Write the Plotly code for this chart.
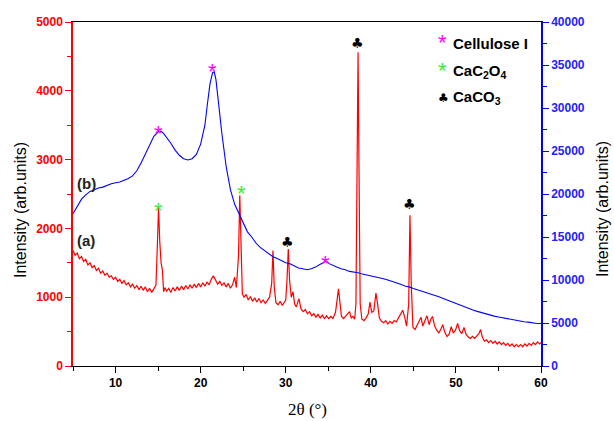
import plotly.graph_objects as go

# ---- data: curve (a), left axis ----
two_theta_a = [5.0,5.25,5.5,5.75,6.0,6.25,6.5,6.75,7.0,7.25,7.5,7.75,8.0,8.25,8.5,8.75,9.0,9.25,9.5,9.75,
               10.0,10.25,10.5,10.75,11.0,11.25,11.5,11.75,12.0,12.25,12.5,12.75,13.0,13.25,13.5,13.75,14.0,14.25,14.5,14.75,
               14.9,15.05,15.2,15.35,15.5,15.65,15.8,16.0,16.25,16.5,16.75,17.0,17.25,17.5,17.75,18.0,18.25,18.5,18.75,19.0,
               19.25,19.5,19.75,20.0,20.25,20.5,20.75,21.0,21.25,21.5,21.75,22.0,22.25,22.5,22.75,23.0,23.25,23.5,23.75,24.0,
               24.2,24.45,24.6,24.75,24.9,25.1,25.35,25.6,25.85,26.1,26.35,26.6,26.85,27.1,27.35,27.6,27.85,28.1,28.35,28.5,
               28.65,28.85,29.1,29.35,29.6,29.85,30.0,30.15,30.3,30.45,30.65,30.85,31.05,31.25,31.55,31.8,32.05,32.3,32.55,32.8,
               33.05,33.3,33.55,33.8,34.05,34.3,34.55,34.8,35.05,35.3,35.55,35.85,36.05,36.2,36.35,36.55,36.8,37.05,37.3,37.5,
               37.7,37.9,38.1,38.25,38.4,38.5,38.6,38.75,38.95,39.2,39.45,39.7,39.9,40.1,40.35,40.6,40.8,41.0,41.25,41.5,
               41.75,42.0,42.25,42.5,42.75,43.0,43.25,43.5,43.75,44.0,44.2,44.45,44.6,44.75,44.95,45.2,45.45,45.7,45.9,46.1,
               46.35,46.6,46.85,47.05,47.25,47.5,47.75,48.0,48.25,48.45,48.7,48.95,49.2,49.45,49.7,49.95,50.2,50.45,50.7,50.95,
               51.2,51.45,51.7,51.95,52.2,52.45,52.7,52.9,53.1,53.35,53.6,53.85,54.1,54.35,54.6,54.85,55.1,55.35,55.6,55.85,
               56.1,56.35,56.6,56.85,57.1,57.35,57.6,57.85,58.1,58.35,58.6,58.85,59.1,59.35,59.6,59.85,60.0]
intensity_a = [1680,1610,1640,1560,1590,1520,1550,1470,1500,1430,1460,1390,1420,1350,1380,1320,1350,1290,1310,1260,
               1290,1230,1260,1200,1240,1180,1210,1150,1190,1130,1170,1110,1160,1100,1150,1080,1130,1070,1120,1180,
               1700,2300,1800,1500,1400,1080,1140,1090,1130,1070,1140,1090,1150,1100,1160,1110,1170,1120,1180,1130,
               1190,1140,1200,1150,1210,1160,1220,1180,1260,1310,1250,1190,1230,1170,1210,1150,1200,1130,1180,1290,
               1140,1600,2480,1800,1050,1000,1040,960,1010,940,990,930,980,920,960,910,960,1000,1200,1680,
               1150,920,890,940,880,920,960,1250,1700,1250,1000,1080,900,860,980,830,790,820,760,790,
               730,760,710,750,700,740,690,730,690,720,690,780,1000,1120,950,720,690,720,760,790,
               700,720,680,900,3200,4560,3000,900,680,660,700,760,930,780,800,1060,900,700,650,630,
               660,610,650,620,660,640,700,760,810,700,580,900,2190,1200,560,530,590,640,710,580,
               660,730,600,680,720,580,520,480,540,600,490,430,460,570,480,520,620,510,470,560,
               460,420,400,430,400,430,470,530,420,360,380,340,370,330,360,320,350,310,340,300,
               330,290,320,280,310,280,310,280,320,290,330,300,340,310,350,320,340]

# ---- data: curve (b), right axis ----
two_theta_b = [5.0,5.5,6.0,6.5,7.0,7.5,8.0,8.5,9.0,9.5,10.0,10.5,11.0,11.5,12.0,12.5,13.0,13.5,14.0,14.5,
               15.0,15.3,15.6,16.0,16.5,17.0,17.5,18.0,18.5,19.0,19.5,20.0,20.5,20.8,21.1,21.4,21.6,21.8,22.1,22.5,
               23.0,23.5,24.0,24.5,25.0,25.5,26.0,26.5,27.0,27.5,28.0,28.5,29.0,29.5,30.0,30.5,31.0,31.5,32.0,32.5,
               33.0,33.5,34.0,34.5,34.8,35.1,35.5,36.0,36.5,37.0,37.5,38.0,38.5,39.0,39.5,40.0,40.5,41.0,41.5,42.0,
               42.5,43.0,43.5,44.0,44.5,45.0,45.5,46.0,46.5,47.0,47.5,48.0,48.5,49.0,49.5,50.0,50.5,51.0,51.5,52.0,
               52.5,53.0,53.5,54.0,54.5,55.0,55.5,56.0,56.5,57.0,57.5,58.0,58.5,59.0,59.5,60.0]
intensity_b = [17700,18600,19400,19900,20300,20500,20700,20800,21000,21200,21300,21400,21600,21800,22100,22700,23600,24700,25800,26700,
               27200,27300,27100,26600,25900,25100,24500,24100,23950,24100,24600,25800,28000,30500,32800,34100,34200,33300,30500,27000,
               23200,20500,18800,17700,16500,15600,15000,14300,13800,13400,13000,12700,12500,12200,12000,11900,11600,11400,11300,11200,
               11300,11500,11800,12100,12200,11900,11700,11500,11300,11200,11000,10950,10850,10700,10600,10500,10400,10250,10150,10000,
               9850,9650,9500,9300,9200,9000,8850,8650,8500,8350,8200,8050,7850,7650,7450,7250,7050,6850,6700,6500,
               6350,6200,6050,5900,5800,5700,5600,5550,5450,5350,5250,5150,5100,5000,4950,4950]

# ---- tick labels ----
x_ticks = [10, 20, 30, 40, 50, 60]
y_left_ticks = [0, 1000, 2000, 3000, 4000, 5000]
y_right_ticks = [0, 5000, 10000, 15000, 20000, 25000, 30000, 35000, 40000]

# ---- peak markers (x, left-axis y, symbol, colour) ----
marker_x = [15.1, 21.4, 34.65, 15.1, 24.8, 30.2, 38.4, 44.5]
marker_y = [3470, 4370, 1570, 2350, 2590, 1800, 4690, 2350]
marker_sym = ["*", "*", "*", "*", "*", "♣", "♣", "♣"]
marker_col = ["#ff00ff", "#ff00ff", "#ff00ff", "#33ee33", "#33ee33", "black", "black", "black"]

legend_sym = ["*", "*", "♣"]
legend_col = ["#ff00ff", "#33ee33", "black"]
legend_txt = ["Cellulose I", "CaC<sub>2</sub>O<sub>4</sub>", "CaCO<sub>3</sub>"]

fig = go.Figure()
fig.add_trace(go.Scatter(x=two_theta_a, y=intensity_a, mode="lines",
                         line=dict(color="#ff0000", width=1.2), yaxis="y", showlegend=False))
fig.add_trace(go.Scatter(x=two_theta_b, y=intensity_b, mode="lines",
                         line=dict(color="#0000ff", width=1.1), yaxis="y2", showlegend=False))

anns = []
for x, y, s, c in zip(marker_x, marker_y, marker_sym, marker_col):
    if s == "*":
        anns.append(dict(x=x, y=y, xref="x", yref="y", text=s, showarrow=False,
                         font=dict(family="Liberation Sans", size=22, color=c), yanchor="middle", yshift=-6))
    else:
        anns.append(dict(x=x, y=y, xref="x", yref="y", text=s, showarrow=False,
                         font=dict(family="DejaVu Sans", size=14, color=c), yanchor="middle"))

leg_y = [43, 71, 98]
for s, c, t, py in zip(legend_sym, legend_col, legend_txt, leg_y):
    if s == "*":
        anns.append(dict(x=442, y=421 - py + 1, xref="paper", yref="paper", text=s, showarrow=False,
                         font=dict(family="Liberation Sans", size=22, color=c), xanchor="center", yanchor="middle"))
    else:
        anns.append(dict(x=443, y=421 - py, xref="paper", yref="paper", text=s, showarrow=False,
                         font=dict(family="DejaVu Sans", size=12, color=c), xanchor="center", yanchor="middle"))
    anns.append(dict(x=451, y=421 - py, xref="paper", yref="paper", text="<b>" + t + "</b>", showarrow=False,
                     font=dict(family="Liberation Sans", size=15, color="black"), xanchor="left", yanchor="middle"))

anns.append(dict(x=75, y=421 - 183, xref="paper", yref="paper", text="<b>(b)</b>", showarrow=False,
                 font=dict(family="Liberation Sans", size=15, color="#222"), xanchor="left", yanchor="middle"))
anns.append(dict(x=75, y=421 - 240, xref="paper", yref="paper", text="<b>(a)</b>", showarrow=False,
                 font=dict(family="Liberation Sans", size=15, color="#222"), xanchor="left", yanchor="middle"))

# axis titles (placed as in the reference, slightly below axis centre)
anns.append(dict(x=20, y=421 - 210, xref="paper", yref="paper", text="Intensity (arb.units)", showarrow=False,
                 textangle=-90, font=dict(family="Liberation Sans", size=16, color="black"),
                 xanchor="center", yanchor="middle"))
anns.append(dict(x=602, y=421 - 209, xref="paper", yref="paper", text="Intensity (arb.units)", showarrow=False,
                 textangle=-90, font=dict(family="Liberation Sans", size=16, color="black"),
                 xanchor="center", yanchor="middle"))
anns.append(dict(x=307, y=421 - 409, xref="paper", yref="paper", text="2θ (°)", showarrow=False,
                 font=dict(family="Liberation Serif", size=17, color="black"),
                 xanchor="center", yanchor="middle"))

# convert paper-pixel annotations to fractions
L, R, T, B = 73, 73, 22, 55
W, H = 614, 421
pw, ph = W - L - R, H - T - B
for a in anns:
    if a["xref"] == "paper":
        a["x"] = (a["x"] - L) / pw
        a["y"] = (a["y"] - B) / ph

fig.update_layout(
    width=W, height=H,
    margin=dict(l=L, r=R, t=T, b=B),
    paper_bgcolor="white", plot_bgcolor="white",
    annotations=anns,
    xaxis=dict(range=[5, 60], tickvals=x_ticks, ticktext=["<b>%d</b>" % v for v in x_ticks],
               showgrid=False, zeroline=False,
               showline=True, linecolor="black", linewidth=1, mirror=True,
               ticks="outside", ticklen=6, tickcolor="black",
               minor=dict(tickvals=[5, 15, 25, 35, 45, 55], ticks="outside", ticklen=4, tickcolor="black"),
               tickfont=dict(family="Liberation Sans", size=12, color="black")),
    yaxis=dict(range=[0, 5000], tickvals=y_left_ticks, ticktext=["<b>%d</b>" % v for v in y_left_ticks],
               showgrid=False, zeroline=False,
               showline=True, linecolor="#ff0000", linewidth=1.5,
               ticks="outside", ticklen=6, tickcolor="#ff0000",
               minor=dict(tickvals=[500, 1500, 2500, 3500, 4500], ticks="outside", ticklen=4, tickcolor="#ff0000"),
               tickfont=dict(family="Liberation Sans", size=12, color="#ff0000")),
    yaxis2=dict(range=[0, 40000], tickvals=y_right_ticks, ticktext=["<b>%d</b>" % v for v in y_right_ticks],
                overlaying="y", side="right", showgrid=False, zeroline=False,
                showline=True, linecolor="#0000ff", linewidth=1.5,
                ticks="outside", ticklen=6, tickcolor="#0000ff",
                minor=dict(tickvals=[2500, 7500, 12500, 17500, 22500, 27500, 32500, 37500], ticks="outside", ticklen=4, tickcolor="#0000ff"),
                tickfont=dict(family="Liberation Sans", size=12, color="#2222ff")),
)

fig.write_html("out.html")
